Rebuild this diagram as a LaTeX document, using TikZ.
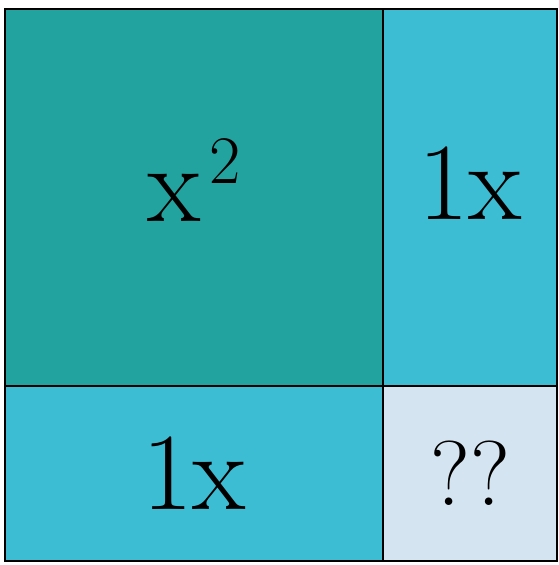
\documentclass[tikz,border=0pt]{standalone}
\usetikzlibrary{positioning}
\definecolor{sqteal}{HTML}{23A39F}
\definecolor{rectcyan}{HTML}{3DBDD3}
\definecolor{unitgrey}{HTML}{D4E4F0}

\begin{document}
\begin{tikzpicture}[x=1pt, y=-1pt,
    cell/.style={draw, line width=1.6pt, inner sep=0pt, outer sep=0pt, font=\fontsize{110}{110}\selectfont},
]
\useasboundingbox (0,0) rectangle (558,565);
\node[cell, fill=sqteal, minimum width=378pt, minimum height=377pt, anchor=north west] (xsq) at (5,9)
    {\raisebox{34pt}{x\hspace{8pt}\raisebox{38pt}{\fontsize{68}{68}\selectfont 2}}};
\node[cell, fill=rectcyan, minimum width=174pt, minimum height=377pt, right=0pt of xsq] (xright) {\raisebox{28pt}{1x}};
\node[cell, fill=rectcyan, minimum width=378pt, minimum height=175pt, below=0pt of xsq] (xbelow) {1x};
\node[cell, fill=unitgrey, minimum width=174pt, minimum height=175pt, below=0pt of xright, font=\fontsize{92}{92}\selectfont] (unit) {??};
\end{tikzpicture}
\end{document}
